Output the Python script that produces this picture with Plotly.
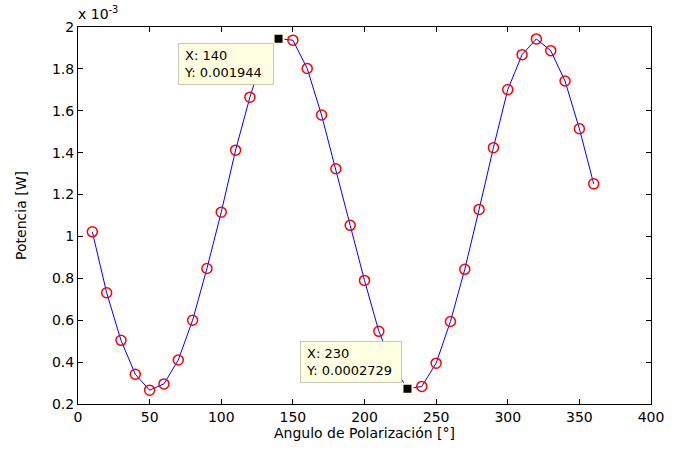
import plotly.graph_objects as go

# Angle of polarization [deg]
angles = [10, 20, 30, 40, 50, 60, 70, 80, 90, 100, 110, 120, 130, 140, 150, 160, 170, 180,
          190, 200, 210, 220, 230, 240, 250, 260, 270, 280, 290, 300, 310, 320, 330, 340, 350, 360]
# Power in units of 1e-3 W
power_e3 = [1.022, 0.731, 0.504, 0.342, 0.266, 0.296, 0.41, 0.60, 0.847, 1.116, 1.412, 1.665,
            1.88, 1.944, 1.937, 1.802, 1.58, 1.323, 1.053, 0.79, 0.547, 0.38, 0.2729, 0.284,
            0.395, 0.594, 0.843, 1.129, 1.424, 1.701, 1.868, 1.943, 1.887, 1.742, 1.514, 1.251]

# Data tips
tip_x = [140, 230]
tip_y_e3 = [1.944, 0.2729]
tip_labels = ["X: 140<br>Y: 0.001944", "X: 230<br>Y: 0.0002729"]
tip_offsets = [(-53, 25), (-56, -27)]
tip_widths = [84, 90]

yticks = [0.2, 0.4, 0.6, 0.8, 1.0, 1.2, 1.4, 1.6, 1.8, 2.0]
ytick_text = ["0.2", "0.4", "0.6", "0.8", "1", "1.2", "1.4", "1.6", "1.8", "2"]
xticks = [0, 50, 100, 150, 200, 250, 300, 350, 400]

FONT = "DejaVu Sans, Arial, sans-serif"

fig = go.Figure()
fig.add_trace(go.Scatter(x=angles, y=power_e3, mode="lines",
                         line=dict(color="#0000FF", width=1), hoverinfo="skip"))
fig.add_trace(go.Scatter(x=angles, y=power_e3, mode="markers",
                         marker=dict(symbol="circle-open", size=10, color="#FF0000",
                                     line=dict(width=1.5, color="#FF0000"))))

for (tx, ty, lab, (ax, ay), w) in zip(tip_x, tip_y_e3, tip_labels, tip_offsets, tip_widths):
    fig.add_annotation(x=tx, y=ty, xref="x", yref="y", text=lab, showarrow=True,
                       ax=ax, ay=ay, arrowcolor="rgba(0,0,0,0)", arrowwidth=0.1,
                       bgcolor="#FFFFE1", bordercolor="#C8C8B4", borderwidth=1,
                       borderpad=5, align="left", width=w, height=30,
                       font=dict(family=FONT, size=13, color="#000000"))

fig.add_trace(go.Scatter(x=tip_x, y=tip_y_e3, mode="markers",
                         marker=dict(symbol="square", size=10, color="#000000",
                                     line=dict(width=2, color="#FFFFE1"))))

fig.add_annotation(x=0, y=1, xref="paper", yref="paper", xanchor="left", yanchor="bottom",
                   xshift=-2, yshift=3, showarrow=False,
                   text="x 10<sup>-3</sup>", font=dict(family=FONT, size=14, color="#000000"))

fig.update_layout(
    width=676, height=451,
    margin=dict(l=78, r=15, t=27, b=44),
    paper_bgcolor="white", plot_bgcolor="white",
    showlegend=False,
    font=dict(family=FONT, size=14, color="#000000"),
)
fig.update_xaxes(range=[0, 400], tickvals=xticks, ticks="inside", ticklen=5,
                 tickcolor="black", showline=True, linecolor="black", linewidth=1,
                 mirror="ticks", showgrid=False, zeroline=False,
                 tickfont=dict(family=FONT, size=14),
                 title=dict(text="Angulo de Polarización [°]", standoff=4,
                            font=dict(family=FONT, size=14)))
fig.update_yaxes(range=[0.2, 2.0], tickvals=yticks, ticktext=ytick_text, ticks="inside",
                 ticklen=5, tickcolor="black", showline=True, linecolor="black", linewidth=1,
                 mirror="ticks", showgrid=False, zeroline=False,
                 tickfont=dict(family=FONT, size=14),
                 title=dict(text="Potencia [W]", standoff=22, font=dict(family=FONT, size=14)))

fig.write_html("out.html")
